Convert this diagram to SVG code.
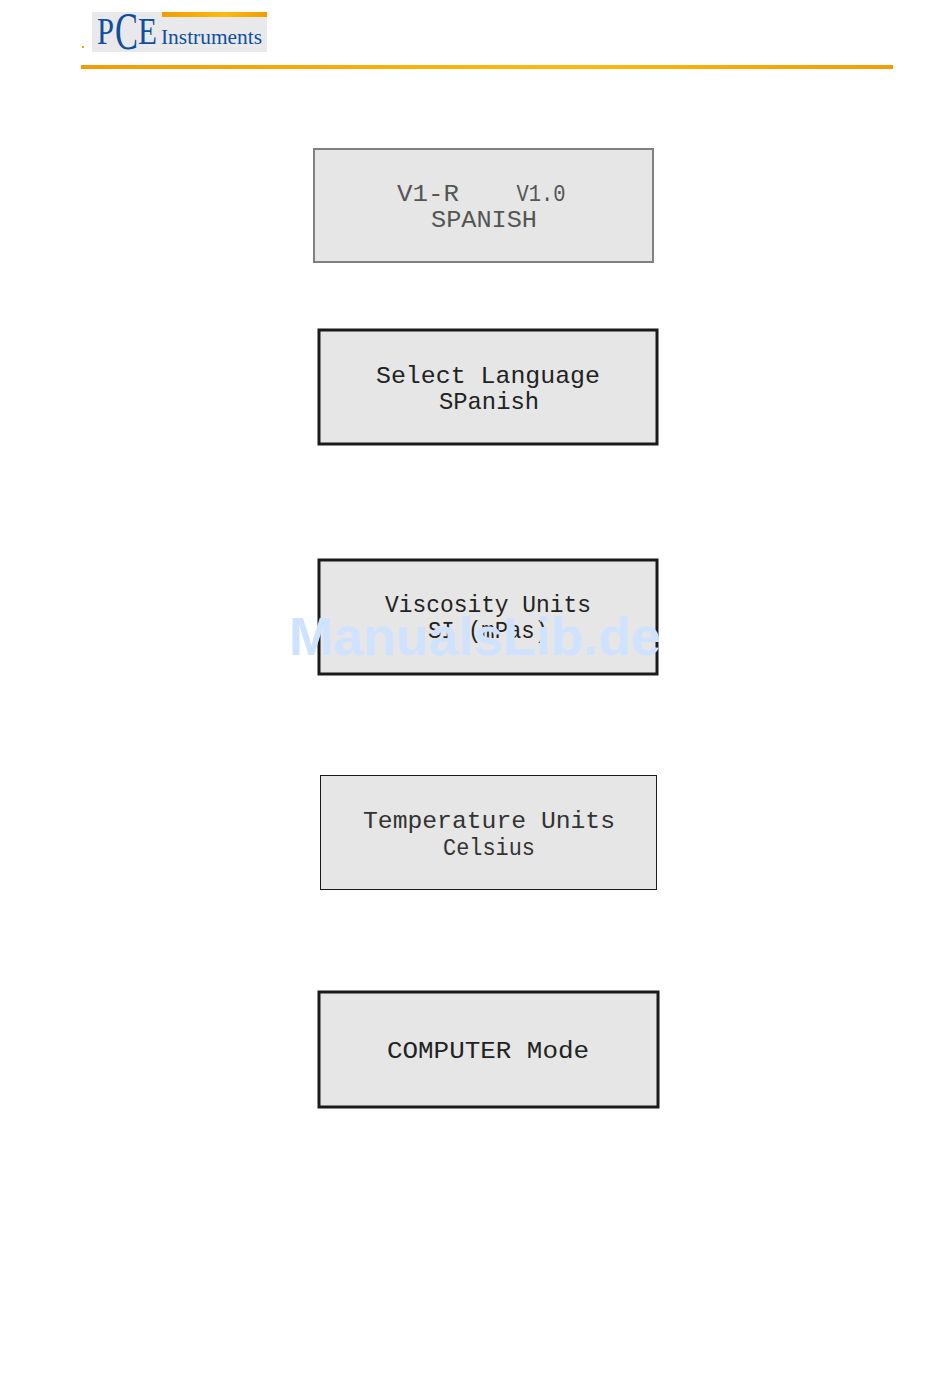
<svg xmlns="http://www.w3.org/2000/svg" width="950" height="1378" viewBox="0 0 950 1378">
<defs>
<style>
.lcd{font-family:"Liberation Mono","DejaVu Sans Mono",monospace;font-size:24px;text-anchor:middle;fill:#222}
.box{fill:#e6e6e6}
.brand{font-family:"Liberation Serif",serif;fill:#0f4f9e}
</style>
<linearGradient id="o" x1="0" x2="1"><stop offset="0" stop-color="#f39c00"/><stop offset=".6" stop-color="#fdb913"/><stop offset="1" stop-color="#f39c00"/></linearGradient>
</defs>
<rect width="950" height="1378" fill="#fff"/>
<g id="logo">
<rect x="92" y="12" width="175" height="40" fill="#e9e9ec"/>
<rect x="162" y="12" width="105" height="5" fill="url(#o)"/>
<rect x="82" y="46" width="2" height="2" fill="#f5a800"/>
<text class="brand" x="97" y="44" font-size="38" textLength="17" lengthAdjust="spacingAndGlyphs">P</text>
<text class="brand" x="115" y="49" font-size="53" textLength="23" lengthAdjust="spacingAndGlyphs">C</text>
<text class="brand" x="138" y="44" font-size="38" textLength="19" lengthAdjust="spacingAndGlyphs">E</text>
<text class="brand" x="161" y="44" font-size="21" textLength="101" lengthAdjust="spacingAndGlyphs">Instruments</text>
</g>
<rect id="header-rule" x="81" y="65" width="812" height="4" fill="url(#o)"/>
<g id="screen-version">
<rect class="box" x="314" y="149" width="339" height="113" stroke="#808080" stroke-width="2"/>
<text class="lcd" x="428" y="201" style="fill:#555" textLength="62" lengthAdjust="spacingAndGlyphs">V1-R</text>
<text class="lcd" x="541" y="201" style="fill:#555" textLength="49" lengthAdjust="spacingAndGlyphs">V1.0</text>
<text class="lcd" x="484" y="227" style="fill:#555" textLength="106" lengthAdjust="spacingAndGlyphs">SPANISH</text>
</g>
<g id="screen-language">
<rect class="box" x="319" y="330" width="338" height="114" stroke="#1a1a1a" stroke-width="3"/>
<text class="lcd" x="488" y="383" textLength="224" lengthAdjust="spacingAndGlyphs">Select Language</text>
<text class="lcd" x="489" y="409" textLength="100" lengthAdjust="spacingAndGlyphs">SPanish</text>
</g>
<g id="screen-viscosity">
<rect class="box" x="319" y="560" width="338" height="114" stroke="#1a1a1a" stroke-width="3"/>
<text class="lcd" x="488" y="612" textLength="206" lengthAdjust="spacingAndGlyphs">Viscosity Units</text>
<text class="lcd" x="488" y="638" textLength="120" lengthAdjust="spacingAndGlyphs">SI (mPas)</text>
</g>
<g id="screen-temperature">
<rect class="box" x="320.500" y="775.500" width="336" height="114" stroke="#1a1a1a" stroke-width="1"/>
<text class="lcd" x="489" y="828" style="fill:#333" textLength="252" lengthAdjust="spacingAndGlyphs">Temperature Units</text>
<text class="lcd" x="489" y="855" style="fill:#333" textLength="92" lengthAdjust="spacingAndGlyphs">Celsius</text>
</g>
<g id="screen-computer">
<rect class="box" x="319" y="992" width="339" height="115" stroke="#1a1a1a" stroke-width="3"/>
<text class="lcd" x="488" y="1058" textLength="202" lengthAdjust="spacingAndGlyphs">COMPUTER Mode</text>
</g>
<text id="watermark" x="475" y="655" text-anchor="middle" font-family="Liberation Sans,sans-serif" font-weight="700" font-size="54" fill="#cfe2ff" textLength="372" lengthAdjust="spacingAndGlyphs">ManualsLib.de</text>
</svg>
